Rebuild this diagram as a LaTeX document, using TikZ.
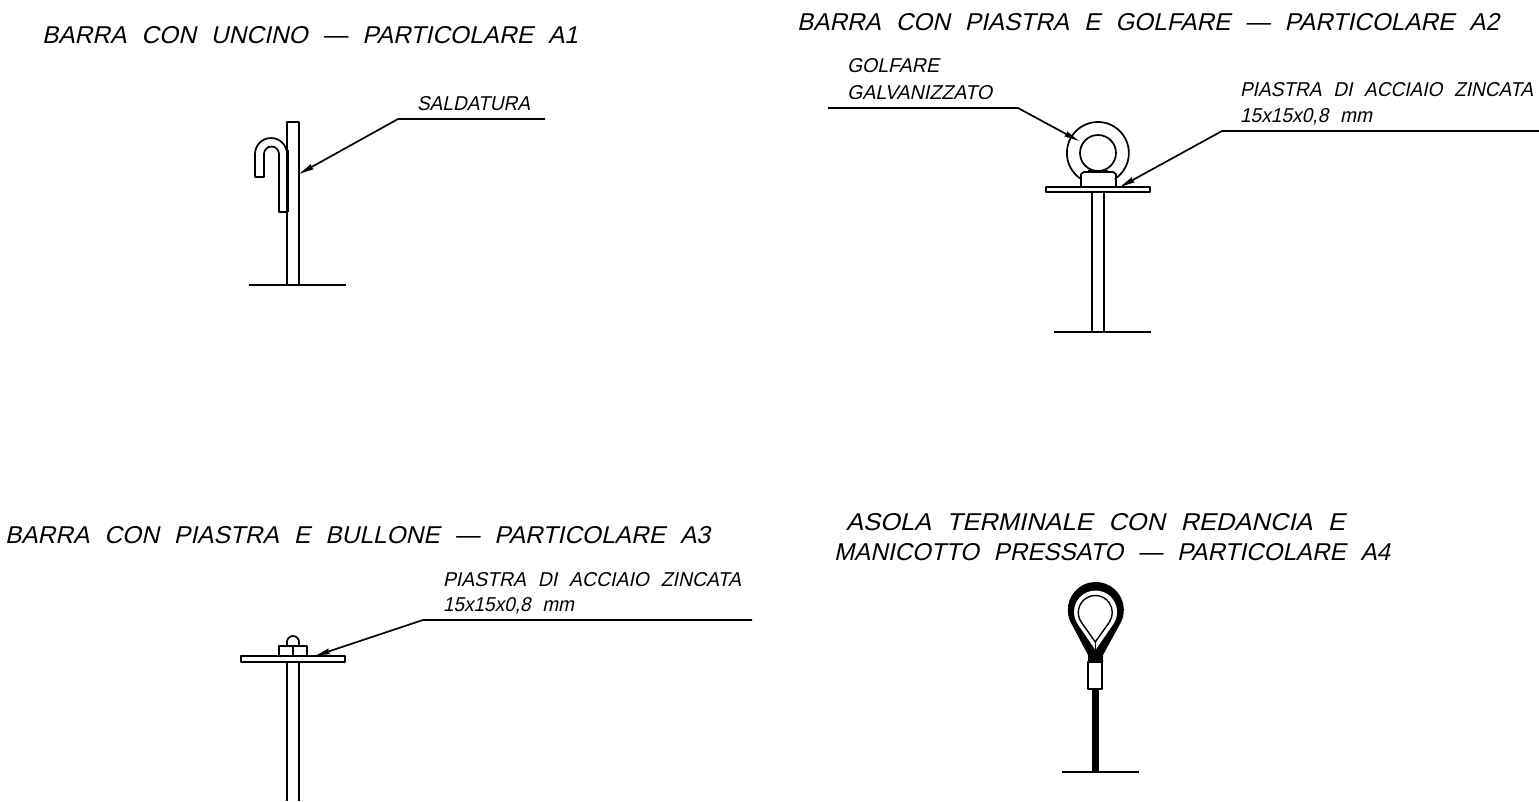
\documentclass[tikz,border=0pt]{standalone}
\usepackage{fontspec}
\usepackage{graphicx}
\setmainfont[FakeSlant=0.22,WordSpace=2.2]{Liberation Sans}
\usetikzlibrary{arrows.meta}
\tikzset{
 part/.style={line width=1.7bp,line join=round},
 base/.style={line width=1.4bp},
 leader/.style={line width=1.7bp,line join=miter,-{Stealth[length=15bp,width=5.5bp,inset=1bp]}},
 lab/.style={anchor=base west,inner sep=0pt,outer sep=0pt,text=black}
}
% name, left x, right x, baseline y, cap height, text
\newcommand{\txt}[6]{\node[lab] (#1) at (#2,#4) {\resizebox{\dimexpr #3bp-#2bp\relax}{#5bp}{#6}};}
\begin{document}
\begin{tikzpicture}[x=1bp,y=-1bp]
\useasboundingbox (0,0) rectangle (1539,801);
% ---- texts
\txt{ta}{42}{578}{44}{17}{BARRA CON UNCINO — PARTICOLARE A1}
\txt{tb}{797}{1499}{30.5}{17}{BARRA CON PIASTRA E GOLFARE — PARTICOLARE A2}
\txt{tc}{5}{710}{543.5}{17}{BARRA CON PIASTRA E BULLONE — PARTICOLARE A3}
\txt{td}{846}{1345}{530.5}{17}{ASOLA TERMINALE CON REDANCIA E}
\txt{te}{834}{1390}{560.5}{17}{MANICOTTO PRESSATO — PARTICOLARE A4}
\txt{sa}{417}{530}{110}{14}{SALDATURA}
\txt{ga}{847}{939}{72}{14}{GOLFARE}
\txt{gb}{847}{992}{99}{14}{GALVANIZZATO}
\txt{pa}{1240}{1533}{96}{14}{PIASTRA DI ACCIAIO ZINCATA}
\txt{pb}{1240}{1372}{122.5}{14}{15x15x0,8 mm}
\txt{pc}{443}{741}{586}{14}{PIASTRA DI ACCIAIO ZINCATA}
\txt{pd}{443}{574}{611}{14}{15x15x0,8 mm}
% ---- A1
\draw[part] (287,285) -- (287,122) -- (299,122) -- (299,285);
\draw[base] (249,285) -- (346,285);
\draw[part] (287,154) -- (287,212) -- (279,212) -- (279,154) arc[start angle=360,end angle=180,radius=7.5] -- (264,177) -- (255,177) -- (255,154) arc[start angle=180,end angle=360,radius=16];
\draw[line width=2.6bp] (287.5,150) -- (287.5,212);
% ---- A2
\draw[part] (1092,192) -- (1092,332) (1104,192) -- (1104,332);
\draw[base] (1054,332) -- (1151,332);
\draw[part] (1046,187) rectangle (1150,192);
\draw[part] (1081,187) -- (1081,174) -- (1084,172) -- (1113,172) -- (1116,174) -- (1116,187);
\draw[part] (1098,153) circle[radius=18];
\draw[line width=2.4bp] (1088,171.5) -- (1108,171.5);
\draw[part] (1081,179) arc[start angle=123,end angle=417,radius=31];
% ---- A3
\draw[part] (287,662) -- (287,801) (299,662) -- (299,801);
\draw[part] (241,656) rectangle (345,662);
\draw[part] (279,656) rectangle (307,646);
\draw[part] (293,646) -- (293,656);
\draw[part] (287,646) -- (287,642) arc[start angle=180,end angle=360,radius=6] -- (299,646);
% ---- A4
\fill (1088,662) -- (1088,655) -- (1070.4,621.8) arc[start angle=155,end angle=385,radius=28] -- (1103,655) -- (1103,662) -- cycle;
\fill[white] (1095.5,650) -- (1077.8,624.2) arc[start angle=145.5,end angle=394.5,radius=21.5] -- cycle;
\draw[line width=1.4bp,fill=white] (1095.3,642) -- (1081.4,622.3) arc[start angle=144.8,end angle=395.2,radius=17] -- cycle;
\draw[line width=1.3bp] (1095.3,642) -- (1095.3,652);
\fill (1091.7,689) rectangle (1099.3,772);
\draw[part,fill=white] (1088,662) rectangle (1102,689);
\draw[base] (1062,772) -- (1139,772);
% ---- leaders
\coordinate (a0) at (545,119); \coordinate (a1) at (398,119); \coordinate (a2) at (299,174);
\draw[leader] (a0) -- (a1) -- (a2);
\coordinate (b0) at (828,108); \coordinate (b1) at (1018,108); \coordinate (b2) at (1079,141);
\draw[leader] (b0) -- (b1) -- (b2);
\coordinate (c0) at (1539,131); \coordinate (c1) at (1222,131); \coordinate (c2) at (1120,187);
\draw[leader] (c0) -- (c1) -- (c2);
\coordinate (d0) at (752,620); \coordinate (d1) at (423,620); \coordinate (d2) at (315,656);
\draw[leader] (d0) -- (d1) -- (d2);
\end{tikzpicture}
\end{document}
